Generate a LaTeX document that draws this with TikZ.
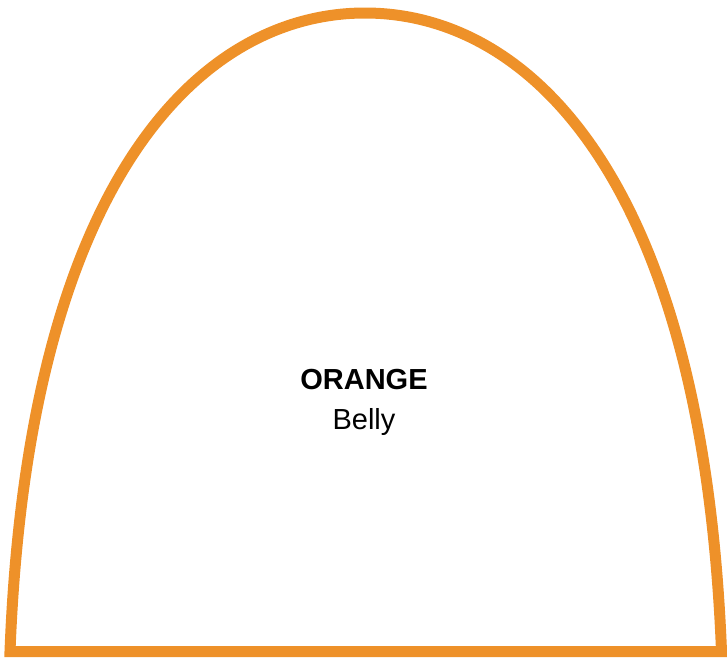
\documentclass[tikz,border=0pt]{standalone}
\usepackage{fontspec}
\setmainfont{Liberation Sans}
\definecolor{bellyorange}{RGB}{238,145,41}
\begin{document}
\begin{tikzpicture}[x=1pt,y=-1pt,line join=miter,line cap=butt,
	archline/.style={draw=bellyorange,line width=11pt},
	labeltext/.style={font=\fontsize{29}{34}\selectfont,inner sep=0pt}]
	\useasboundingbox (0,0) rectangle (727,657);
	\path
	(10,651.5) coordinate (L)
	(365,13) coordinate (T)
	(721.5,651.5) coordinate (R)
	;
	\draw[archline] (L) .. controls (28,180) and (200,13) .. (T)
		.. controls (530,13) and (703,180) .. (R) -- cycle;
	\node[labeltext,font=\fontsize{29}{34}\selectfont\bfseries] (title) at (364,380) {ORANGE};
	\node[labeltext] (sub) at (364,422) {Belly};
\end{tikzpicture}
\end{document}
